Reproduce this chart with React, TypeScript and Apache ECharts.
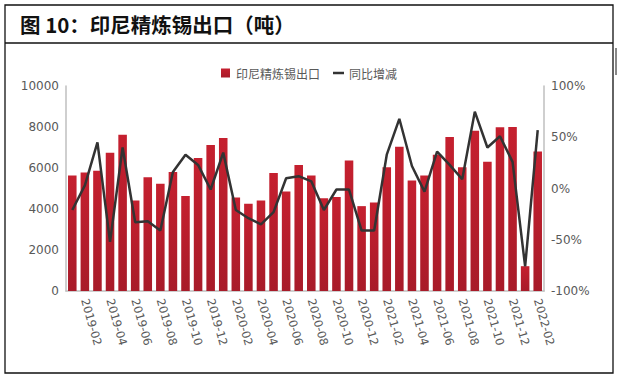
import React, { useEffect, useRef } from "react";
import * as echarts from "echarts";

const categories = [
  "2019-01","2019-02","2019-03","2019-04","2019-05","2019-06","2019-07","2019-08","2019-09","2019-10","2019-11","2019-12",
  "2020-01","2020-02","2020-03","2020-04","2020-05","2020-06","2020-07","2020-08","2020-09","2020-10","2020-11","2020-12",
  "2021-01","2021-02","2021-03","2021-04","2021-05","2021-06","2021-07","2021-08","2021-09","2021-10","2021-11","2021-12",
  "2022-01","2022-02",
];
const exportTons = [
  5630, 5780, 5870, 6750, 7620, 4420, 5550, 5230, 5810, 4630, 6490, 7120,
  7460, 4560, 4260, 4420, 5760, 4850, 6150, 5630, 4520, 4580, 6360, 4140,
  4320, 6040, 7040, 5390, 5630, 6650, 7510, 6040, 7820, 6310, 7990, 8000,
  1210, 6800,
];
const yoyPct = [
  -21, 3, 45, -52, 40, -33, -32, -41, 16, 33, 23, -1,
  35, -21, -29, -35, -23, 10, 12, 7, -21, -1, -1, -41,
  -41, 33, 68, 22, -3, 36, 23, 9, 75, 40, 51, 26,
  -76, 57,
];
const leftTicks = { min: 0, max: 10000, interval: 2000 };
const rightTicks = { min: -100, max: 100, interval: 50 };
const titleText = "图 10：印尼精炼锡出口（吨）";
const barName = "印尼精炼锡出口";
const lineName = "同比增减";

export default function App() {
  const ref = useRef<HTMLDivElement>(null);
  useEffect(() => {
    document.body.style.margin = "0";
    const chart = echarts.init(ref.current!, undefined, { renderer: "svg" });
    const axisFont = { color: "#595959", fontSize: 12, fontFamily: "'DejaVu Sans', Verdana, sans-serif" };
    chart.setOption({
      animation: false,
      backgroundColor: "#ffffff",
      graphic: [
        { type: "rect", shape: { x: 5, y: 5, width: 608, height: 368 }, style: { fill: "none", stroke: "#111", lineWidth: 1.3 } },
        { type: "line", shape: { x1: 5, y1: 43, x2: 613, y2: 43 }, style: { stroke: "#111", lineWidth: 1.3 } },
        { type: "line", shape: { x1: 616, y1: 48, x2: 616, y2: 75 }, style: { stroke: "#111", lineWidth: 1 } },
        {
          type: "text", x: 20, y: 24,
          style: { text: titleText, fontSize: 20.5, fontWeight: "bold", fontFamily: "'Noto Sans CJK SC', sans-serif", fill: "#111", verticalAlign: "middle" },
        },
      ],
      legend: {
        left: 216, top: 62,
        itemWidth: 11, itemHeight: 9, itemGap: 13,
        symbolKeepAspect: true,
        textStyle: { color: "#595959", fontSize: 12, fontFamily: "'Noto Sans CJK SC', sans-serif" },
        data: [
          { name: barName, icon: "path://M0,0H9V9H0Z" },
          { name: lineName, icon: "path://M0,0H11V2.5H0Z", itemStyle: { color: "#333333" } },
        ],
      },
      grid: { left: 66, right: 77, top: 86, bottom: 87 },
      xAxis: {
        type: "category",
        data: categories,
        axisLine: { lineStyle: { color: "#BFBFBF", width: 1.5 } },
        axisTick: { show: false },
        axisLabel: {
          ...axisFont,
          fontSize: 11.5,
          rotate: -74,
          margin: 8,
          interval: (i: number) => i % 2 === 1,
        },
      },
      yAxis: [
        {
          type: "value", ...leftTicks,
          axisLine: { show: true, lineStyle: { color: "#BFBFBF", width: 1.5 } },
          axisTick: { show: false },
          splitLine: { show: false },
          axisLabel: { ...axisFont, margin: 7, formatter: (v: number) => String(v) },
        },
        {
          type: "value", ...rightTicks,
          position: "right",
          axisLine: { show: true, lineStyle: { color: "#BFBFBF", width: 1.5 } },
          axisTick: { show: false },
          splitLine: { show: false },
          axisLabel: { ...axisFont, margin: 7, formatter: (v: number) => v + "%" },
        },
      ],
      series: [
        {
          name: barName,
          type: "bar",
          data: exportTons,
          barWidth: "68%",
          itemStyle: {
            color: new echarts.graphic.LinearGradient(0, 0, 0, 1, [
              { offset: 0, color: "#C5202F" },
              { offset: 1, color: "#A81B29" },
            ]),
          },
        },
        {
          name: lineName,
          type: "line",
          yAxisIndex: 1,
          data: yoyPct,
          symbol: "none",
          lineStyle: { color: "#333333", width: 2.5 },
          itemStyle: { color: "#333333" },
        },
      ],
    });
    return () => chart.dispose();
  }, []);
  return <div ref={ref} style={{ position: "absolute", left: 0, top: 0, width: 621, height: 378 }} />;
}
